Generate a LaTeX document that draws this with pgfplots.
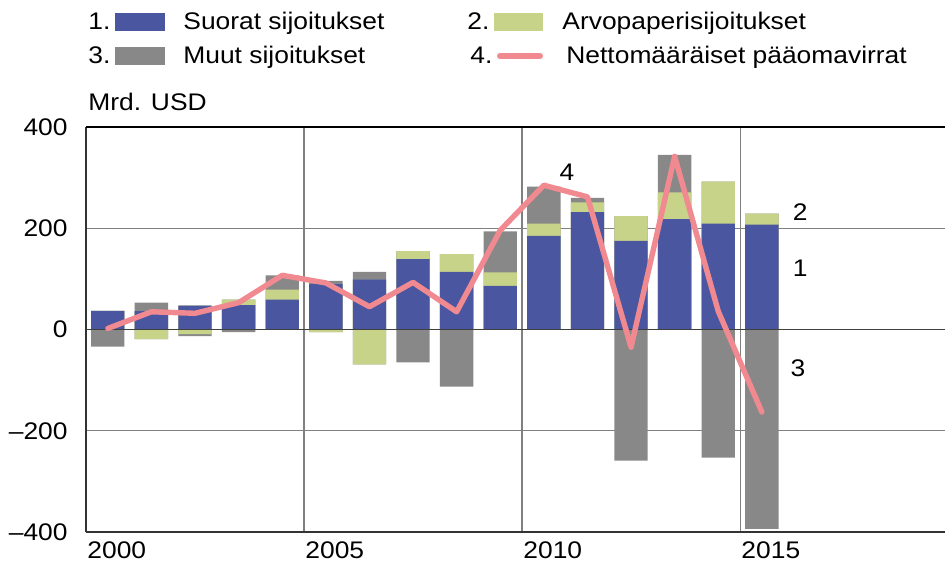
\documentclass[border=0pt]{standalone}
\usepackage{pgfplots}
\pgfplotsset{compat=1.18}
\usepackage{pgfplotstable}
\usepackage{fontspec}
\setmainfont{Liberation Sans}[FakeStretch=1.1]
\definecolor{cblue}{RGB}{75,86,161}
\definecolor{cgreen}{RGB}{200,211,138}
\definecolor{cgray}{RGB}{136,136,136}
\definecolor{cpink}{RGB}{240,138,144}
\pgfplotstableread{
x      bluetop greentop graytop greenneg grayneg
2000.5  37   37   37    0    -34
2001.5  37   37   53  -19    -19
2002.5  47   47   47   -9    -13
2003.5  48   59   59    0     -5
2004.5  59   79  107    0      0
2005.5  90   90   96   -5     -5
2006.5  99   99  114  -69    -69
2007.5 139  155  155    0    -65
2008.5 114  149  149    0   -113
2009.5  86  113  194    0      0
2010.5 185  209  282    0      0
2011.5 232  251  260    0      0
2012.5 175  224  224    0   -259
2013.5 218  271  345    0      0
2014.5 209  292  292    0   -253
2015.5 207  229  229    0   -394
}\bars
\pgfplotstableread{
x      net
2000.5   2
2001.5  35
2002.5  32
2003.5  53
2004.5 107
2005.5  92
2006.5  45
2007.5  93
2008.5  35
2009.5 196
2010.5 285
2011.5 262
2012.5 -35
2013.5 342
2014.5  36
2015.5 -163
}\netflow
\begin{document}
\begin{tikzpicture}[font=\fontsize{12bp}{14bp}\selectfont]
\begin{axis}[
  at={(43bp,20.5bp)}, anchor=south west, scale only axis,
  width=429.5bp, height=202.5bp,
  xmin=2000, xmax=2019.7, ymin=-400, ymax=400,
  axis lines*=left,
  axis line style={black!80, line width=0.9bp},
  xtick={2000,2005,2010,2015},
  xticklabels={2000,2005,2010,2015},
  ytick={-400,-200,0,200,400},
  yticklabels={–400,–200,0,200,400},
  grid=major,
  grid style={black!50, line width=0.55bp},
  major tick length=0pt,
  xticklabel style={anchor=north west, inner sep=0pt, xshift=0.5bp, yshift=-4.5bp},
  yticklabel style={anchor=east, inner sep=0pt, xshift=-9bp},
  clip=false,
]
\addplot[ybar, bar width=0.765, bar shift=0pt, fill=cgray, draw=none] table[x=x, y=graytop]{\bars};
\addplot[ybar, bar width=0.765, bar shift=0pt, fill=cgreen, draw=none] table[x=x, y=greentop]{\bars};
\addplot[ybar, bar width=0.765, bar shift=0pt, fill=cblue, draw=none] table[x=x, y=bluetop]{\bars};
\addplot[ybar, bar width=0.765, bar shift=0pt, fill=cgray, draw=none] table[x=x, y=grayneg]{\bars};
\addplot[ybar, bar width=0.765, bar shift=0pt, fill=cgreen, draw=none] table[x=x, y=greenneg]{\bars};
\addplot[black!75, line width=0.7bp] coordinates {(2000,0) (2019.7,0)};
\draw[black, line width=1.2bp] (rel axis cs:0,1) -- (rel axis cs:1,1);
\addplot[cpink, line width=2.7bp, line join=round, line cap=round] table[x=x, y=net]{\netflow};
\node at (axis cs:2011.03,310) {4};
\node at (axis cs:2016.38,231) {2};
\node at (axis cs:2016.38,121) {1};
\node at (axis cs:2016.33,-76) {3};
\end{axis}
% legend (coordinates: px*0.5, y from bottom)
\node[anchor=base west, inner sep=0pt] at (44bp,271.5bp) {1.};
\fill[cblue] (57.5bp,271bp) rectangle (82.5bp,280bp);
\node[anchor=base west, inner sep=0pt] at (91.5bp,271.5bp) {Suorat sijoitukset};
\node[anchor=base west, inner sep=0pt] at (233.5bp,271.5bp) {2.};
\fill[cgreen] (247bp,271bp) rectangle (271.5bp,280bp);
\node[anchor=base west, inner sep=0pt] at (281bp,271.5bp) {Arvopaperisijoitukset};
\node[anchor=base west, inner sep=0pt] at (44bp,254.5bp) {3.};
\fill[cgray] (57.5bp,254bp) rectangle (82.5bp,263bp);
\node[anchor=base west, inner sep=0pt] at (91.5bp,254.5bp) {Muut sijoitukset};
\node[anchor=base west, inner sep=0pt] at (235bp,254.5bp) {4.};
\draw[cpink, line width=3bp, line cap=round] (250bp,258.5bp) -- (270bp,258.5bp);
\node[anchor=base west, inner sep=0pt] at (283bp,254.5bp) {Nettomääräiset pääomavirrat};
\node[anchor=base west, inner sep=0pt] at (44bp,231bp) {Mrd. USD};
\pgfresetboundingbox
\useasboundingbox (0,0) rectangle (472.5bp,286.5bp);
\end{tikzpicture}
\end{document}
